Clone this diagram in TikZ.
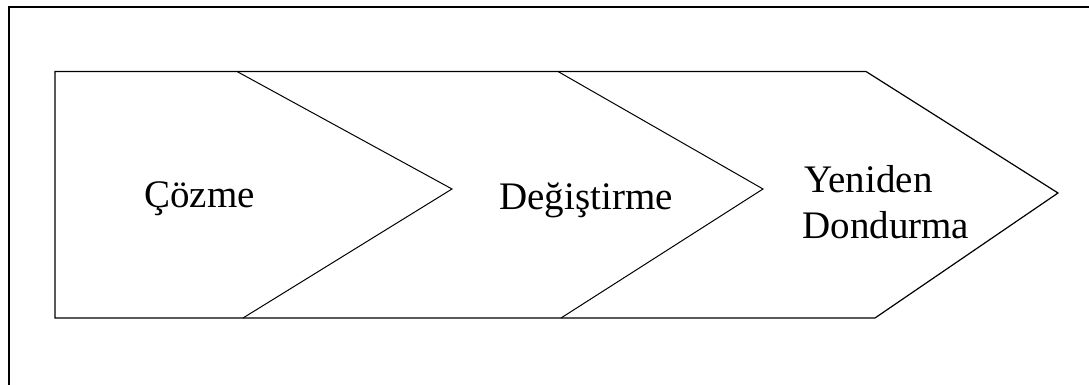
\documentclass[tikz,border=0pt]{standalone}
\usepackage{fontspec}
\setmainfont{Liberation Serif}
\usetikzlibrary{positioning}

\begin{document}
\begin{tikzpicture}[x=0.5pt,y=-0.5pt,
    lbl/.style={font=\fontsize{19.5}{23}\selectfont, inner sep=0pt, anchor=base west}]
    \useasboundingbox (0,0) rectangle (1089,385);
    \clip (0,0) rectangle (1089,385);
    % outer frame (only top and left inside the picture)
    \draw[line width=1pt] (8.5,7.5) rectangle (1120,420);
    % chevron band
    \coordinate (tl) at (55,71.5);
    \coordinate (bl) at (55,318);
    \coordinate (tip1) at (452,189);
    \coordinate (tip2) at (763,189);
    \coordinate (tip3) at (1058,193);
    \draw[line width=0.6pt] (tl) -- (866,71.5) -- (tip3) -- (875,318) -- (bl) -- cycle;
    \draw[line width=0.5pt] (237,71.5) -- (tip1) -- (243,318);
    \draw[line width=0.5pt] (558,71.5) -- (tip2) -- (561,318);
    % labels
    \node[lbl] (cozme) at (144,208) {Çözme};
    \node[lbl] (degistirme) at (499,210) {Değiştirme};
    \node[lbl] (yeniden) at (804,193) {Yeniden};
    \node[lbl] (dondurma) at (802,239) {Dondurma};
\end{tikzpicture}
\end{document}
